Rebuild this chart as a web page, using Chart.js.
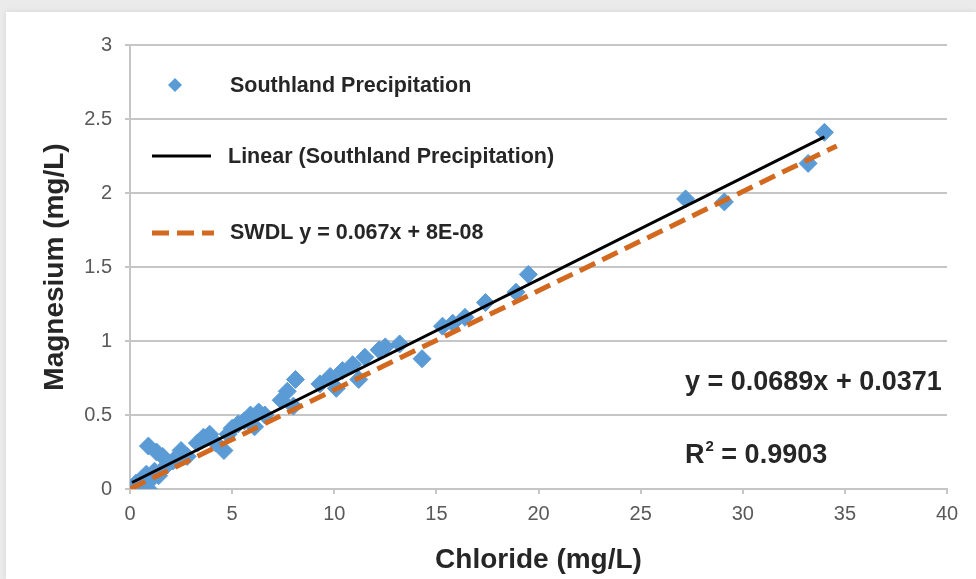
<!DOCTYPE html>
<html>
<head>
<meta charset="utf-8">
<script src="https://cdn.jsdelivr.net/npm/chart.js@4/dist/chart.umd.min.js"></script>
<style>
  html, body { margin: 0; padding: 0; }
  body { width: 976px; height: 579px; background: #ebebeb; position: relative; overflow: hidden; font-family: "Liberation Sans", Arial, sans-serif; }
  .card { position: absolute; left: 6px; top: 12px; right: 0; bottom: 0; background: #fff; box-shadow: 0 0 6px rgba(0,0,0,0.10); }
  #chart { position: absolute; left: 0; top: 0; }
</style>
</head>
<body>
<div class="card"></div>
<canvas id="chart" width="976" height="579"></canvas>
<script>
// Southland precipitation samples
const chloride = [
  0.1, 0.3, 0.4, 0.6, 0.7, 0.8, 0.9, 1.0, 1.2, 1.4,
  0.9, 1.3, 1.6, 1.8, 2.1, 2.5, 2.8, 3.3, 3.6, 3.9,
  4.2, 4.6, 4.8, 5.0, 5.3, 5.6, 5.9, 6.1, 6.3, 6.6,
  7.4, 7.7, 8.0, 8.1, 9.3, 9.8, 10.1, 10.4, 10.9, 11.2,
  11.5, 12.2, 12.5, 13.2, 14.3, 15.3, 15.8, 16.4, 17.4, 18.9,
  19.5, 27.2, 29.1, 33.2, 34.0
];
const magnesium = [
  0.01, 0.04, 0.0, 0.07, 0.02, 0.10, 0.0, 0.06, 0.12, 0.09,
  0.29, 0.25, 0.22, 0.16, 0.19, 0.26, 0.22, 0.31, 0.35, 0.37,
  0.31, 0.26, 0.37, 0.41, 0.44, 0.46, 0.50, 0.42, 0.52, 0.50,
  0.60, 0.66, 0.56, 0.74, 0.71, 0.76, 0.68, 0.80, 0.84, 0.74,
  0.89, 0.94, 0.96, 0.98, 0.88, 1.10, 1.12, 1.16, 1.26, 1.33,
  1.45, 1.96, 1.94, 2.20, 2.41
];

// trendlines
const fitSlope = 0.0689, fitIntercept = 0.0371, fitR2 = '0.9903';
const swdlSlope = 0.067, swdlIntercept = 8e-8;
const swdlRange = [0, 34.6];

const xTicks = [0, 5, 10, 15, 20, 25, 30, 35, 40];
const yTicks = [0, 0.5, 1, 1.5, 2, 2.5, 3];

const seriesNames = ['Southland Precipitation', 'Linear (Southland Precipitation)', 'SWDL y = 0.067x + 8E-08'];

const points = chloride.map((x, i) => ({ x, y: magnesium[i] }));
const xMin = Math.min(...chloride), xMax = Math.max(...chloride);
const fitLine = [xMin, xMax].map(x => ({ x, y: fitSlope * x + fitIntercept }));
const swdlLine = swdlRange.map(x => ({ x, y: swdlSlope * x + swdlIntercept }));

const blue = '#5b9bd5', orange = '#d2691e', ink = '#262626', gridGray = '#c6c6c6';
const FONT = '"Liberation Sans", Arial, sans-serif';

// legend drawn inside the plot, plus the equation text
const insideText = {
  id: 'insideText',
  afterDatasetsDraw(chart) {
    const ctx = chart.ctx;
    const ds = chart.data.datasets;
    ctx.save();
    ctx.fillStyle = ink;
    ctx.textBaseline = 'middle';
    ctx.font = 'bold 21.5px ' + FONT;

    // row 1 - diamond
    ctx.save();
    ctx.fillStyle = ds[0].backgroundColor;
    ctx.beginPath();
    ctx.moveTo(175, 78); ctx.lineTo(182, 85); ctx.lineTo(175, 92); ctx.lineTo(168, 85);
    ctx.closePath(); ctx.fill();
    ctx.restore();
    ctx.fillText(ds[0].label, 230, 86);

    // row 2 - solid line
    ctx.save();
    ctx.strokeStyle = ds[1].borderColor; ctx.lineWidth = ds[1].borderWidth;
    ctx.beginPath(); ctx.moveTo(152, 156); ctx.lineTo(211, 156); ctx.stroke();
    ctx.restore();
    ctx.fillText(ds[1].label, 228, 157);

    // row 3 - dashed line
    ctx.save();
    ctx.strokeStyle = ds[2].borderColor; ctx.lineWidth = ds[2].borderWidth;
    ctx.setLineDash(ds[2].borderDash);
    ctx.beginPath(); ctx.moveTo(152, 233); ctx.lineTo(214, 233); ctx.stroke();
    ctx.restore();
    ctx.fillText(ds[2].label, 230, 233);

    // fit equation
    ctx.font = 'bold 27px ' + FONT;
    ctx.fillText('y = ' + fitSlope + 'x + ' + fitIntercept, 685, 383);
    ctx.fillText('R', 685, 456);
    let w = ctx.measureText('R').width;
    ctx.font = 'bold 15px ' + FONT;
    ctx.fillText('2', 685 + w + 1, 447);
    let w2 = ctx.measureText('2').width;
    ctx.font = 'bold 27px ' + FONT;
    ctx.fillText(' = ' + fitR2, 685 + w + w2 + 1, 456);
    ctx.restore();
  }
};

new Chart(document.getElementById('chart'), {
  type: 'scatter',
  data: {
    datasets: [
      {
        label: seriesNames[0],
        data: points,
        backgroundColor: blue,
        borderColor: blue,
        borderWidth: 1,
        pointStyle: 'rectRot',
        pointRadius: 9,
        pointHoverRadius: 9,
        order: 3
      },
      {
        label: seriesNames[1],
        type: 'line',
        data: fitLine,
        borderColor: '#000000',
        borderWidth: 3,
        pointRadius: 0,
        fill: false,
        order: 2
      },
      {
        label: seriesNames[2],
        type: 'line',
        data: swdlLine,
        borderColor: orange,
        borderWidth: 5,
        borderDash: [17, 8],
        pointRadius: 0,
        fill: false,
        order: 1
      }
    ]
  },
  options: {
    responsive: false,
    animation: false,
    layout: { padding: { left: 0, top: 45, right: 29, bottom: 0 } },
    plugins: {
      legend: { display: false },
      tooltip: { enabled: false }
    },
    scales: {
      x: {
        type: 'linear',
        min: 0,
        max: 40,
        afterBuildTicks: s => { s.ticks = xTicks.map(v => ({ value: v })); },
        afterFit: s => { s.height = 90; },
        ticks: { color: '#595959', font: { family: FONT, size: 20 }, padding: 8, callback: v => String(v) },
        grid: { drawOnChartArea: false, drawTicks: true, tickLength: 5, tickColor: gridGray, lineWidth: 2 },
        border: { display: true, color: gridGray, width: 2 },
        title: {
          display: true,
          text: 'Chloride (mg/L)',
          color: ink,
          font: { family: FONT, size: 28, weight: 'bold' },
          padding: { top: 0, bottom: 2 }
        }
      },
      y: {
        type: 'linear',
        min: 0,
        max: 3,
        afterBuildTicks: s => { s.ticks = yTicks.map(v => ({ value: v })); },
        afterFit: s => { s.width = 130; },
        ticks: { color: '#595959', font: { family: FONT, size: 20 }, padding: 13, callback: v => String(v) },
        grid: { color: gridGray, lineWidth: 2, drawTicks: true, tickLength: 5, tickColor: gridGray },
        border: { display: true, color: gridGray, width: 2 },
        title: {
          display: true,
          text: 'Magnesium (mg/L)',
          color: ink,
          font: { family: FONT, size: 28, weight: 'bold' },
          padding: { top: 38, bottom: 0 }
        }
      }
    }
  },
  plugins: [insideText]
});
</script>
</body>
</html>
